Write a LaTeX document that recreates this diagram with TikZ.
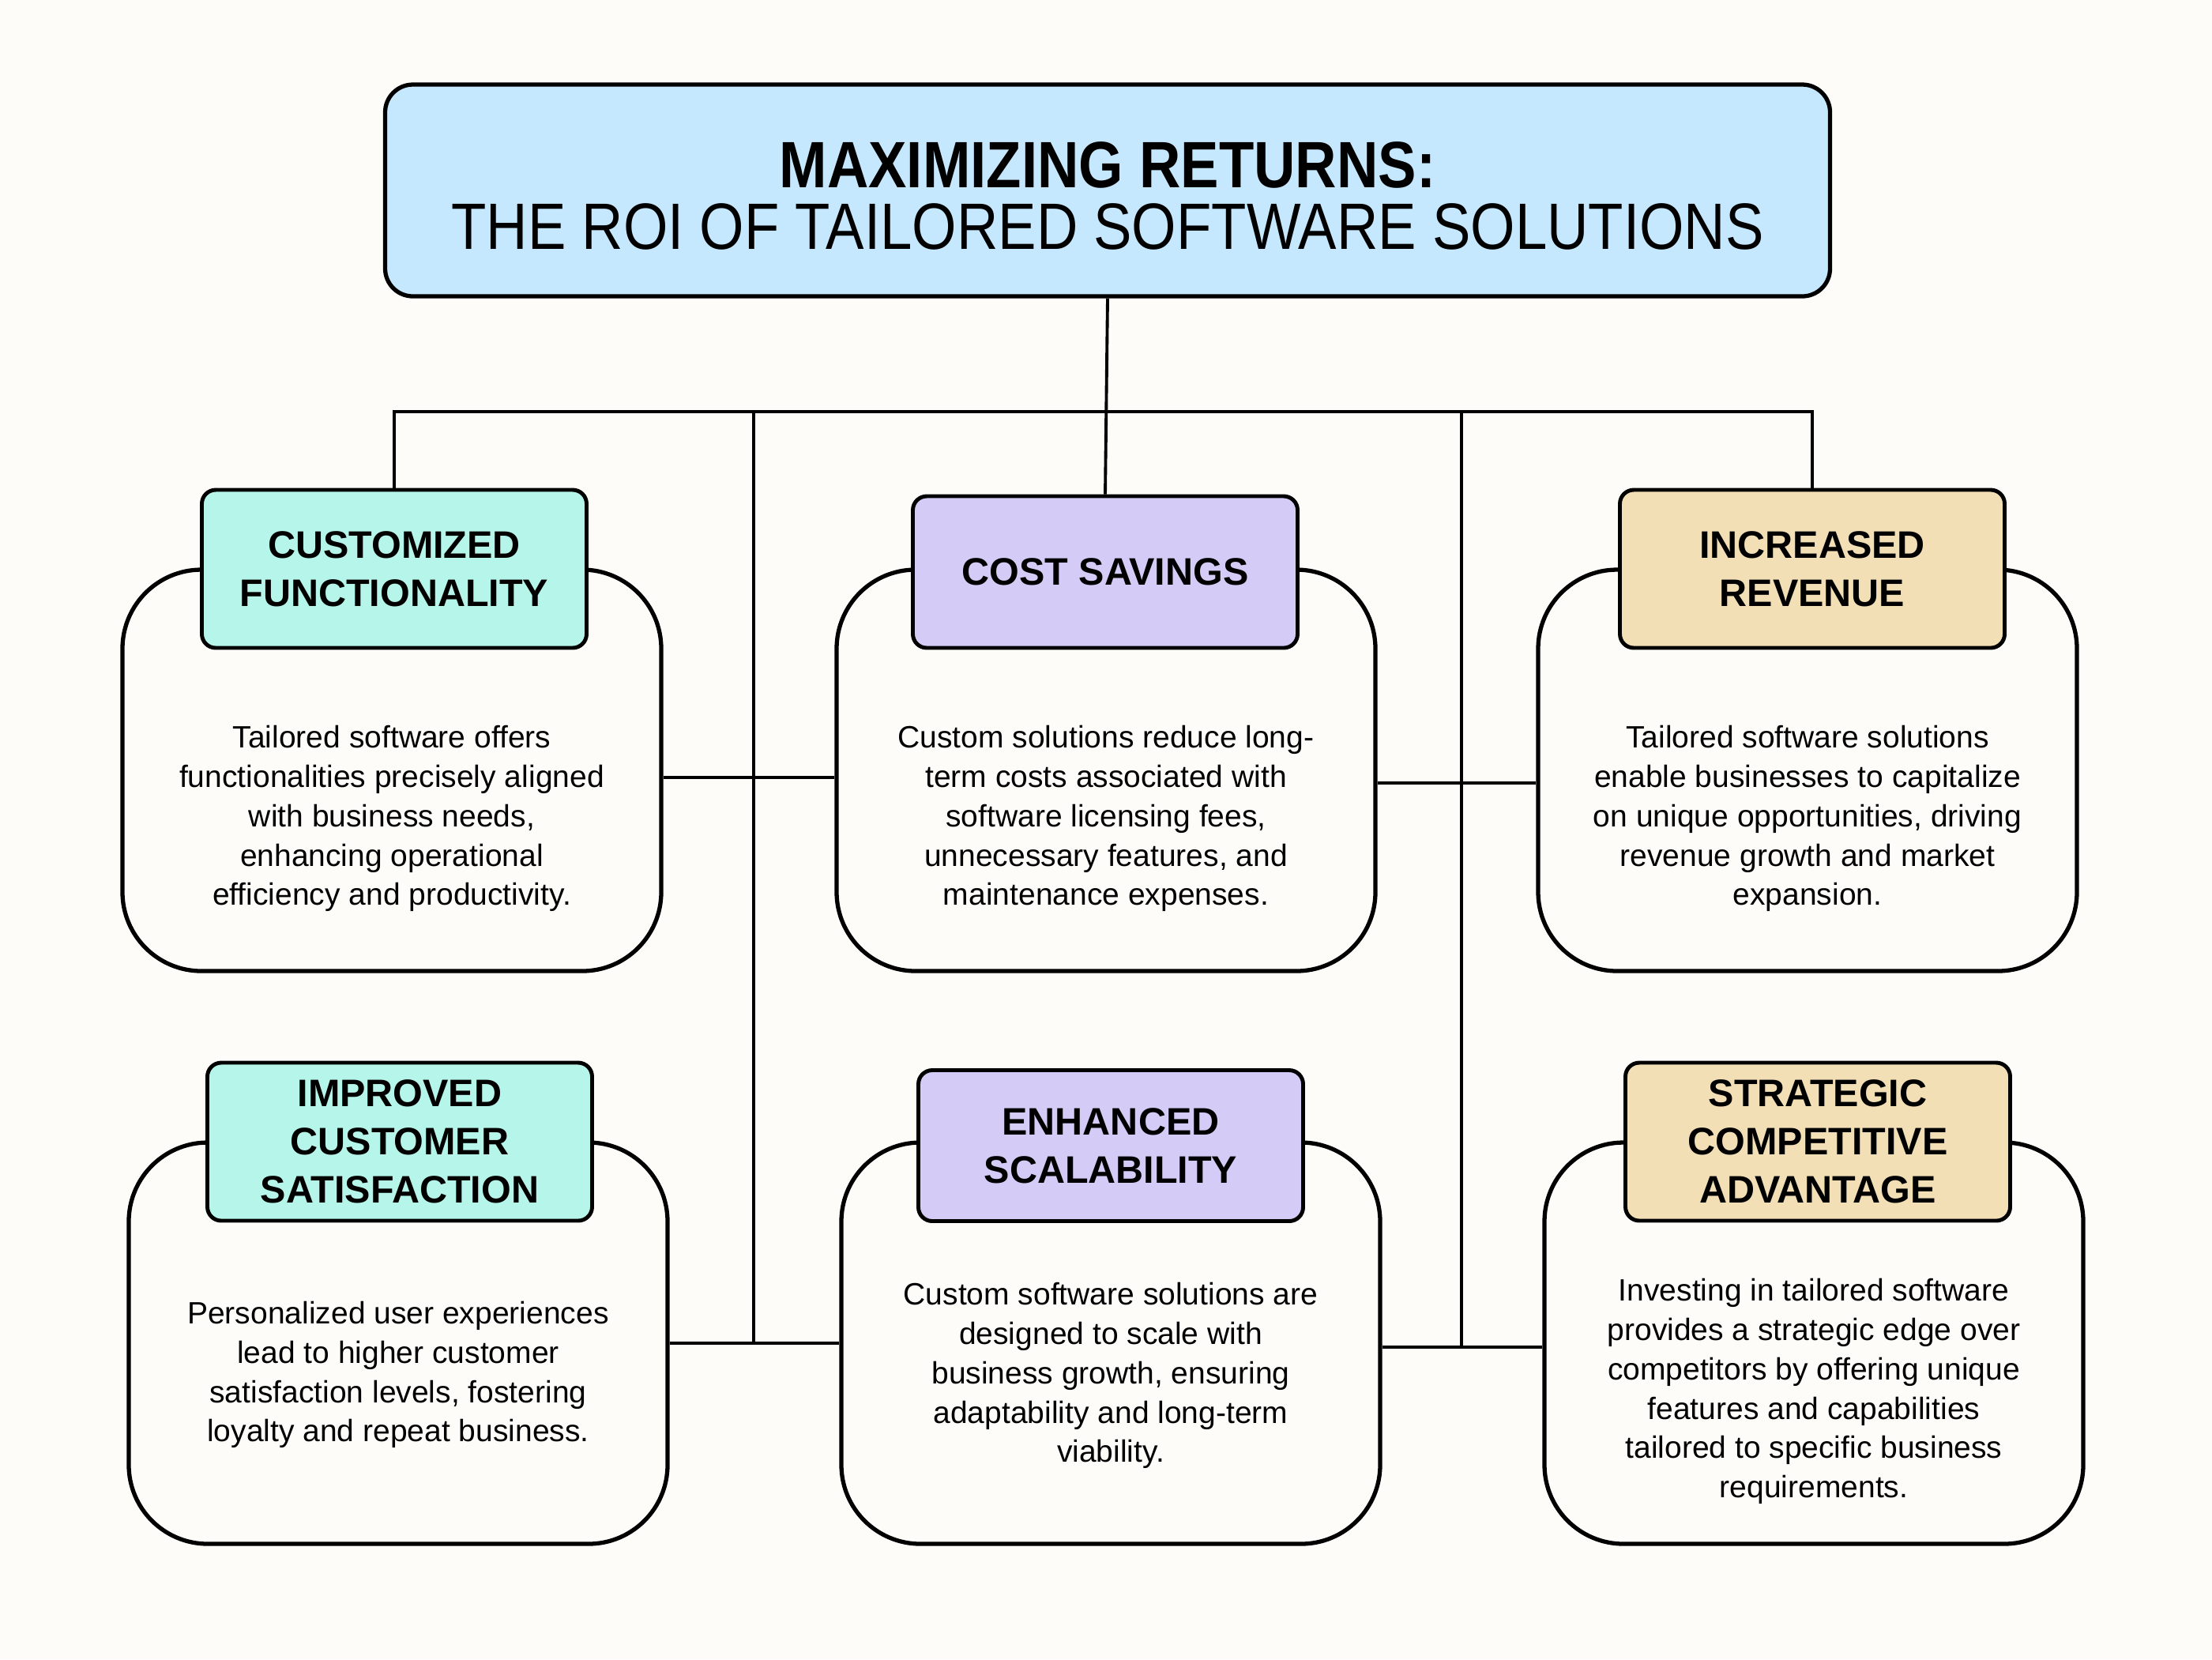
\documentclass[tikz,border=0pt]{standalone}
\usepackage{fontspec}
\setmainfont{Liberation Sans}
\newfontfamily\titlefont[FakeStretch=0.875]{Liberation Sans}
\usetikzlibrary{positioning}
\definecolor{rpaper}{HTML}{FDFCF9}
\definecolor{rtitle}{HTML}{C6E8FE}
\definecolor{rmint}{HTML}{B6F5EA}
\definecolor{rlilac}{HTML}{D4CCF6}
\definecolor{rsand}{HTML}{F3DFB6}
\tikzset{
  headbox/.style={draw=black, line width=1.4pt, rounded corners=5pt,
                  minimum width=4.87cm, minimum height=2cm, align=center,
                  inner sep=2pt, font=\fontsize{13.8}{17.4}\selectfont\bfseries},
  bodybox/.style={draw=black, line width=1.5pt, fill=rpaper, rounded corners=1cm,
                  minimum width=6.82cm, minimum height=5.08cm},
  desc/.style={align=center, inner sep=0pt, font=\fontsize{11.1}{14.2}\selectfont},
  link/.style={line width=1.1pt, black},
}
\begin{document}
\begin{tikzpicture}[y=-1cm]
  \fill[rpaper] (0,0) rectangle (28,21);
  \useasboundingbox (0,0) rectangle (28,21);

  % title
  \node[draw=black, line width=1.5pt, fill=rtitle, rounded corners=10pt,
        minimum width=18.29cm, minimum height=2.68cm] (title) at (14.02,2.41) {};
  \node[align=center, font=\titlefont\fontsize{23.6}{22.4}\selectfont] (titlet)
    at ([yshift=-0.07cm]title.center)
    {\textbf{MAXIMIZING RETURNS:}\\ THE ROI OF TAILORED SOFTWARE SOLUTIONS};

  % body boxes
  \node[bodybox] (custb) at (4.96,9.75) {};
  \node[bodybox] (costb) at (14.00,9.75) {};
  \node[bodybox] (revb) at (22.88,9.75) {};
  \node[bodybox] (impb) at (5.04,17.00) {};
  \node[bodybox] (enhb) at (14.06,17.00) {};
  \node[bodybox] (strb) at (22.96,17.00) {};

  % headings
  \node[headbox, fill=rmint] (custh) at (4.99,7.20) {CUSTOMIZED\\FUNCTIONALITY};
  \node[headbox, fill=rlilac, minimum height=1.92cm] (costh) at (13.99,7.24) {COST SAVINGS};
  \node[headbox, fill=rsand] (revh) at (22.94,7.20) {INCREASED\\REVENUE};
  \node[headbox, fill=rmint] (imph) at (5.06,14.45) {IMPROVED\\CUSTOMER\\SATISFACTION};
  \node[headbox, fill=rlilac, minimum height=1.91cm] (enhh) at (14.06,14.50) {ENHANCED\\SCALABILITY};
  \node[headbox, fill=rsand] (strh) at (23.01,14.45) {STRATEGIC\\COMPETITIVE\\ADVANTAGE};

  % descriptions
  \node[desc] (custt) at ([yshift=-0.61cm]custb.center)
    {Tailored software offers\\ functionalities precisely aligned\\ with business needs,\\
     enhancing operational\\ efficiency and productivity.};
  \node[desc] (costt) at ([yshift=-0.61cm]costb.center)
    {Custom solutions reduce long-\\ term costs associated with\\ software licensing fees,\\
     unnecessary features, and\\ maintenance expenses.};
  \node[desc] (revt) at ([yshift=-0.61cm]revb.center)
    {Tailored software solutions\\ enable businesses to capitalize\\ on unique opportunities, driving\\
     revenue growth and market\\ expansion.};
  \node[desc] (impt) at ([yshift=-0.40cm]impb.center)
    {Personalized user experiences\\ lead to higher customer\\ satisfaction levels, fostering\\
     loyalty and repeat business.};
  \node[desc] (enht) at ([yshift=-0.41cm]enhb.center)
    {Custom software solutions are\\ designed to scale with\\ business growth, ensuring\\
     adaptability and long-term\\ viability.};
  \node[desc] (strt) at ([yshift=-0.61cm]strb.center)
    {Investing in tailored software\\ provides a strategic edge over\\ competitors by offering unique\\
     features and capabilities\\ tailored to specific business\\ requirements.};

  % bus and drops
  \coordinate (bus) at (14.02,5.21);
  \coordinate (busL) at (9.54,5.21);
  \coordinate (busR) at (18.50,5.21);
  \draw[link] (title.south) -- (costh.north);
  \draw[link] (custh.north) |- (bus) -| (revh.north);
  \draw[link] (busL) -- (busL |- impb.east);
  \draw[link] (busR) -- ([yshift=-0.05cm]busR |- enhb.east);

  % row links
  \draw[link] ([yshift=-0.09cm]custb.east) -- ([yshift=-0.09cm]costb.west);
  \draw[link] ([yshift=-0.16cm]costb.east) -- ([yshift=-0.16cm]revb.west);
  \draw[link] (impb.east) -- (enhb.west);
  \draw[link] ([yshift=-0.05cm]enhb.east) -- ([yshift=-0.05cm]strb.west);
\end{tikzpicture}
\end{document}
